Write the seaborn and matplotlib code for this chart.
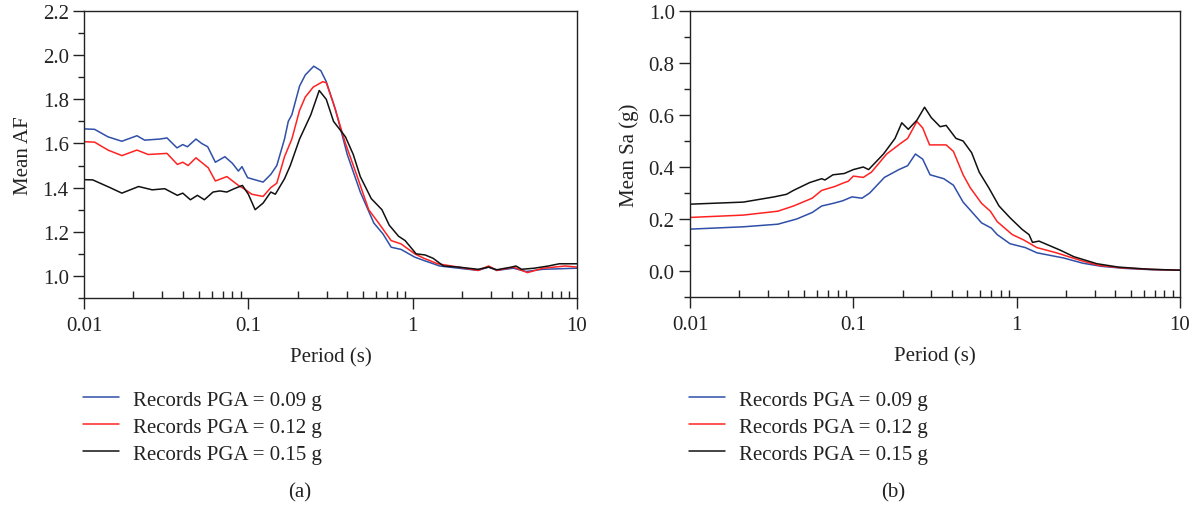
import numpy as np
import pandas as pd
import matplotlib
matplotlib.use("Agg")
import matplotlib.pyplot as plt
from matplotlib.ticker import LogLocator, MultipleLocator, FixedLocator, FixedFormatter, NullFormatter
from matplotlib.lines import Line2D
import seaborn as sns

# ---------------- data (a) Mean AF ----------------
af_t_009 = [0.010, 0.0116, 0.0140, 0.0170, 0.0210, 0.0234, 0.0290, 0.0320, 0.0368, 0.0399, 0.0426, 0.0480,
            0.0520, 0.0566, 0.0630, 0.0720, 0.0800, 0.0870, 0.0915, 0.0990, 0.1230, 0.1370, 0.1490, 0.1660,
            0.1750, 0.1840, 0.2050, 0.2220, 0.2500, 0.2760, 0.2980, 0.3400, 0.4000, 0.4800, 0.5800, 0.6600,
            0.7400, 0.8500, 1.030, 1.170, 1.460, 1.900, 2.500, 2.900, 3.250, 4.100, 4.900, 6.200, 10.0]
af_v_009 = [1.666, 1.664, 1.630, 1.610, 1.635, 1.615, 1.620, 1.625, 1.580, 1.595, 1.585, 1.620,
            1.600, 1.585, 1.515, 1.540, 1.510, 1.475, 1.495, 1.445, 1.425, 1.460, 1.500, 1.620,
            1.700, 1.730, 1.860, 1.910, 1.950, 1.930, 1.880, 1.750, 1.550, 1.380, 1.240, 1.190,
            1.130, 1.120, 1.085, 1.070, 1.045, 1.035, 1.025, 1.040, 1.025, 1.035, 1.020, 1.030, 1.035]

af_t_012 = [0.010, 0.0116, 0.0140, 0.0170, 0.0210, 0.0246, 0.0320, 0.0370, 0.0399, 0.0430, 0.0480, 0.0570,
            0.0630, 0.0740, 0.0870, 0.0940, 0.1050, 0.1230, 0.1370, 0.1490, 0.1660, 0.1840, 0.2050, 0.2220,
            0.2480, 0.2840, 0.2980, 0.3300, 0.3900, 0.4600, 0.5400, 0.6200, 0.7400, 0.8500, 1.030, 1.170,
            1.420, 1.900, 2.500, 2.900, 3.250, 4.100, 5.000, 6.200, 8.500, 10.0]
af_v_012 = [1.608, 1.606, 1.570, 1.545, 1.570, 1.550, 1.555, 1.505, 1.515, 1.500, 1.535, 1.490,
            1.430, 1.450, 1.410, 1.395, 1.370, 1.360, 1.400, 1.420, 1.540, 1.620, 1.750, 1.810,
            1.855, 1.880, 1.875, 1.780, 1.600, 1.450, 1.300, 1.240, 1.160, 1.145, 1.100, 1.080,
            1.055, 1.040, 1.025, 1.045, 1.025, 1.040, 1.015, 1.035, 1.045, 1.040]

af_t_015 = [0.010, 0.0113, 0.0144, 0.0170, 0.0215, 0.0260, 0.0310, 0.0370, 0.0399, 0.0444, 0.0490, 0.0540,
            0.0610, 0.0670, 0.0740, 0.0820, 0.0920, 0.1000, 0.1100, 0.1230, 0.1370, 0.1460, 0.1660, 0.1800,
            0.2050, 0.2400, 0.2700, 0.2980, 0.3300, 0.3900, 0.4350, 0.4800, 0.5600, 0.6500, 0.7200, 0.8200,
            0.9000, 1.050, 1.190, 1.330, 1.540, 1.900, 2.500, 2.900, 3.250, 4.000, 4.250, 4.600, 5.500,
            6.700, 7.800, 10.0]
af_v_015 = [1.436, 1.435, 1.400, 1.375, 1.405, 1.390, 1.395, 1.365, 1.375, 1.345, 1.365, 1.345,
            1.380, 1.385, 1.380, 1.395, 1.410, 1.370, 1.300, 1.330, 1.380, 1.370, 1.440, 1.500,
            1.620, 1.730, 1.840, 1.800, 1.700, 1.630, 1.550, 1.450, 1.350, 1.300, 1.230, 1.180,
            1.160, 1.100, 1.095, 1.080, 1.045, 1.040, 1.030, 1.040, 1.028, 1.040, 1.045, 1.030, 1.035,
            1.045, 1.055, 1.055]

# ---------------- data (b) Mean Sa ----------------
sa_t_009 = [0.010, 0.0212, 0.0345, 0.0450, 0.0560, 0.0640, 0.0750, 0.0860, 0.0980, 0.1130, 0.1260, 0.1550,
            0.1900, 0.2150, 0.2400, 0.2660, 0.2950, 0.3580, 0.4100, 0.4700, 0.5100, 0.6100, 0.7000, 0.7600,
            0.9100, 1.130, 1.330, 1.940, 2.540, 3.300, 4.600, 6.700, 10.0]
sa_v_009 = [0.161, 0.170, 0.180, 0.200, 0.225, 0.250, 0.260, 0.270, 0.285, 0.280, 0.300, 0.360,
            0.390, 0.405, 0.450, 0.430, 0.370, 0.355, 0.330, 0.265, 0.240, 0.185, 0.165, 0.140,
            0.105, 0.090, 0.070, 0.050, 0.030, 0.018, 0.010, 0.005, 0.003]

sa_t_012 = [0.010, 0.0212, 0.0345, 0.0430, 0.0560, 0.0640, 0.0770, 0.0880, 0.0930, 0.1000, 0.1150, 0.1290,
            0.1600, 0.1940, 0.2150, 0.2450, 0.2660, 0.2930, 0.3700, 0.4100, 0.4700, 0.5200, 0.6100, 0.6900,
            0.7600, 0.9400, 1.100, 1.330, 1.750, 2.480, 3.150, 4.400, 6.700, 10.0]
sa_v_012 = [0.206, 0.215, 0.230, 0.250, 0.280, 0.310, 0.325, 0.340, 0.345, 0.365, 0.360, 0.380,
            0.450, 0.490, 0.510, 0.575, 0.550, 0.485, 0.485, 0.460, 0.370, 0.320, 0.260, 0.230,
            0.190, 0.140, 0.120, 0.090, 0.070, 0.040, 0.022, 0.012, 0.006, 0.003]

sa_t_015 = [0.010, 0.0212, 0.0327, 0.0390, 0.0430, 0.0540, 0.0640, 0.0670, 0.0750, 0.0880, 0.1000, 0.1150,
            0.1240, 0.1530, 0.1800, 0.1980, 0.2170, 0.2450, 0.2730, 0.3000, 0.3400, 0.3700, 0.4250, 0.4700,
            0.5300, 0.5900, 0.6750, 0.7800, 0.9100, 1.080, 1.190, 1.250, 1.370, 1.850, 2.240, 3.100,
            4.200, 6.400, 10.0]
sa_v_015 = [0.257, 0.265, 0.285, 0.295, 0.310, 0.340, 0.355, 0.350, 0.370, 0.375, 0.390, 0.400,
            0.390, 0.450, 0.510, 0.570, 0.545, 0.580, 0.630, 0.590, 0.555, 0.560, 0.510, 0.500,
            0.455, 0.380, 0.320, 0.250, 0.205, 0.160, 0.140, 0.110, 0.115, 0.080, 0.055, 0.028,
            0.015, 0.007, 0.003]

labels = ["Records PGA = 0.09 g", "Records PGA = 0.12 g", "Records PGA = 0.15 g"]
colors = ["#2f4fa8", "#ff2222", "#111111"]
xtick_vals = [0.01, 0.1, 1, 10]
xtick_labels = ["0.01", "0.1", "1", "10"]

FS = 15
TXT = "#222222"

sns.set_theme(style="white")
plt.rcParams["font.family"] = ["Liberation Serif", "DejaVu Serif"]
plt.rcParams["font.size"] = FS

fig = plt.figure(figsize=(11.96, 5.10), dpi=100)
ax1 = fig.add_axes([84/1196, 1-299/510, 493/1196, 287/510])
ax2 = fig.add_axes([690/1196, 1-298/510, 490/1196, 286/510])

def build(ts, vs):
    frames = []
    for t, v, lab in zip(ts, vs, labels):
        frames.append(pd.DataFrame({"Period": t, "Value": v, "Series": lab}))
    return pd.concat(frames, ignore_index=True)

df_a = build([af_t_009, af_t_012, af_t_015], [af_v_009, af_v_012, af_v_015])
df_b = build([sa_t_009, sa_t_012, sa_t_015], [sa_v_009, sa_v_012, sa_v_015])

for ax, df in [(ax1, df_a), (ax2, df_b)]:
    sns.lineplot(data=df, x="Period", y="Value", hue="Series", hue_order=labels,
                 palette=colors, ax=ax, linewidth=1.1, legend=False, estimator=None)
    ax.set_xscale("log")
    ax.set_xlim(0.01, 10)
    ax.xaxis.set_major_locator(FixedLocator(xtick_vals))
    ax.xaxis.set_major_formatter(FixedFormatter(xtick_labels))
    ax.xaxis.set_minor_locator(LogLocator(base=10, subs=np.arange(2, 10)))
    ax.xaxis.set_minor_formatter(NullFormatter())
    ax.yaxis.set_minor_locator(MultipleLocator(0.1))
    ax.tick_params(axis="x", which="major", direction="out", length=8, width=1, labelsize=FS, pad=5, colors=TXT)
    ax.tick_params(axis="x", which="minor", direction="in", length=5, width=1, colors=TXT)
    ax.tick_params(axis="y", which="major", direction="out", length=8, width=1, labelsize=FS, pad=3, colors=TXT)
    ax.tick_params(axis="y", which="minor", direction="out", length=4, width=1, colors=TXT)
    ax.tick_params(bottom=True, left=True, which="both")
    for s in ax.spines.values():
        s.set_visible(True)
        s.set_color(TXT)
        s.set_linewidth(1.0)
    ax.set_xlabel("Period (s)", fontsize=FS, labelpad=9, color=TXT)

ax1.set_ylim(0.9, 2.2)
ax1.set_yticks([1.0, 1.2, 1.4, 1.6, 1.8, 2.0, 2.2])
ax1.set_yticklabels(["1.0", "1.2", "1.4", "1.6", "1.8", "2.0", "2.2"])
ax1.set_ylabel("Mean AF", fontsize=FS, labelpad=7, color=TXT)

ax2.set_ylim(-0.1, 1.0)
ax2.set_yticks([0.0, 0.2, 0.4, 0.6, 0.8, 1.0])
ax2.set_yticklabels(["0.0", "0.2", "0.4", "0.6", "0.8", "1.0"])
ax2.set_ylabel("Mean Sa (g)", fontsize=FS, labelpad=7, color=TXT)

handles = [Line2D([], [], color=c, linewidth=1.1) for c in colors]
for xl in [83/1196, 689/1196]:
    fig.legend(handles, labels, loc="upper left", bbox_to_anchor=(xl, 1-391/510),
               frameon=False, fontsize=FS, handlelength=1.75, handletextpad=0.65,
               labelspacing=0.36, borderpad=0, borderaxespad=0, labelcolor=TXT)

fig.text(300/1196, 1-493/510, "(a)", ha="center", va="center", fontsize=FS, color=TXT)
fig.text(893/1196, 1-493/510, "(b)", ha="center", va="center", fontsize=FS, color=TXT)

fig.savefig("out.png", dpi=100)
